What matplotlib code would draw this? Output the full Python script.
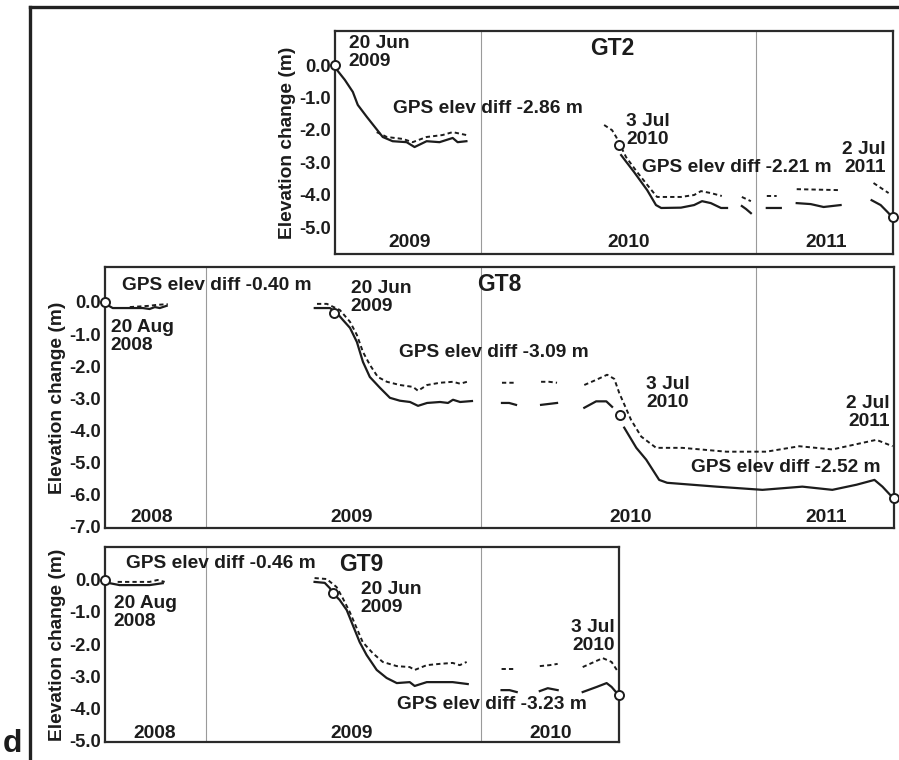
"""Elevation change at GT2, GT8 and GT9 from GPS (solid) and surface (dashed) records."""
import numpy as np
import matplotlib

matplotlib.use("Agg")

import matplotlib.pyplot as plt
from matplotlib.lines import Line2D

nan = np.nan

# ---- GT2 (decimal year, elevation change in m) ----
gt2_solid_yr = [2009.466, 2009.473, 2009.502, 2009.531, 2009.549, 2009.582, 2009.611, 2009.640, 2009.676,
                2009.727, 2009.756, 2009.800, 2009.847, 2009.895, 2009.913, 2009.945, nan,
                2010.509, 2010.556, 2010.604, 2010.636, 2010.655, 2010.727, 2010.775, 2010.804, 2010.836,
                2010.873, 2010.895, nan,
                2010.949, 2010.964, 2010.982, nan,
                2011.040, 2011.091, nan,
                2011.149, 2011.200, 2011.247, 2011.309, nan,
                2011.422, 2011.455, 2011.484, 2011.495]
gt2_solid_dh = [0.0, -0.15, -0.46, -0.83, -1.23, -1.60, -1.91, -2.22, -2.35,
                -2.38, -2.53, -2.35, -2.38, -2.25, -2.38, -2.35, nan,
                -2.78, -3.30, -3.86, -4.32, -4.41, -4.40, -4.32, -4.20, -4.26,
                -4.41, -4.41, nan,
                -4.35, -4.44, -4.57, nan,
                -4.41, -4.41, nan,
                -4.26, -4.29, -4.38, -4.32, nan,
                -4.17, -4.32, -4.57, -4.69]
gt2_dash_yr = [2009.618, 2009.655, 2009.713, 2009.749, 2009.800, 2009.858, 2009.895, 2009.945, nan,
               2010.447, 2010.476, 2010.491, 2010.527, 2010.567, 2010.611, 2010.640, 2010.727, 2010.775,
               2010.800, 2010.836, 2010.876, nan,
               2010.949, 2010.982, nan,
               2011.040, 2011.076, nan,
               2011.149, 2011.309, nan,
               2011.429, 2011.484]
gt2_dash_dh = [-2.07, -2.22, -2.28, -2.38, -2.22, -2.16, -2.07, -2.16, nan,
               -1.85, -2.01, -2.22, -2.84, -3.30, -3.77, -4.07, -4.07, -4.01,
               -3.89, -3.95, -4.04, nan,
               -4.07, -4.20, nan,
               -4.04, -4.04, nan,
               -3.83, -3.86, nan,
               -3.64, -3.95]
gt2_marker_yr = [2009.466, 2010.503, 2011.500]
gt2_marker_dh = [0.0, -2.47, -4.69]

# ---- GT8 ----
gt8_solid_yr = [2008.633, 2008.644, 2008.662, 2008.713, 2008.771, 2008.796, 2008.815, 2008.833, 2008.858, nan,
                2009.396, 2009.451, 2009.476, 2009.498, 2009.524, 2009.549, 2009.571, 2009.596, 2009.633,
                2009.669, 2009.705, 2009.742, 2009.771, 2009.804, 2009.851, 2009.880, 2009.898, 2009.924,
                2009.967, nan,
                2010.076, 2010.102, 2010.127, nan,
                2010.218, 2010.247, 2010.276, nan,
                2010.375, 2010.418, 2010.455, 2010.476, nan,
                2010.520, 2010.564, 2010.600, 2010.647, 2010.676, 2010.855, 2011.022, 2011.167, 2011.276,
                2011.364, 2011.429, 2011.458, 2011.495]
gt8_solid_dh = [0.0, -0.10, -0.19, -0.19, -0.19, -0.22, -0.16, -0.19, -0.12, nan,
                -0.19, -0.19, -0.34, -0.56, -0.81, -1.25, -1.87, -2.34, -2.68,
                -2.99, -3.08, -3.12, -3.24, -3.15, -3.12, -3.15, -3.05, -3.12,
                -3.09, nan,
                -3.15, -3.15, -3.21, nan,
                -3.21, -3.18, -3.15, nan,
                -3.30, -3.10, -3.10, -3.27, nan,
                -3.92, -4.55, -4.92, -5.55, -5.64, -5.76, -5.86, -5.76, -5.86,
                -5.70, -5.55, -5.76, -6.10]
gt8_dash_yr = [2008.724, 2008.796, 2008.822, 2008.862, nan,
               2009.404, 2009.440, 2009.487, 2009.524, 2009.549, 2009.571, 2009.596, 2009.625, 2009.658,
               2009.705, 2009.753, 2009.771, 2009.804, 2009.851, 2009.898, 2009.924, 2009.949, nan,
               2010.076, 2010.127, nan,
               2010.218, 2010.247, 2010.276, nan,
               2010.375, 2010.418, 2010.458, 2010.484, 2010.502, 2010.545, 2010.582, 2010.636, 2010.731,
               2010.891, 2011.036, 2011.156, 2011.276, 2011.436, 2011.495]
gt8_dash_dh = [-0.16, -0.12, -0.09, -0.07, nan,
               -0.06, -0.06, -0.25, -0.62, -1.03, -1.56, -1.96, -2.34, -2.49,
               -2.59, -2.65, -2.77, -2.59, -2.52, -2.49, -2.55, -2.49, nan,
               -2.52, -2.52, nan,
               -2.49, -2.49, -2.52, nan,
               -2.59, -2.43, -2.27, -2.40, -2.84, -3.68, -4.20, -4.55, -4.55,
               -4.67, -4.67, -4.50, -4.60, -4.30, -4.50]
gt8_marker_yr = [2008.634, 2009.466, 2010.503, 2011.500]
gt8_marker_dh = [0.0, -0.34, -3.52, -6.10]

# ---- GT9 ----
gt9_solid_yr = [2008.634, 2008.651, 2008.687, 2008.796, 2008.844, nan,
                2009.396, 2009.433, 2009.451, 2009.462, 2009.487, 2009.513, 2009.535, 2009.560, 2009.585,
                2009.622, 2009.658, 2009.695, 2009.742, 2009.760, 2009.804, 2009.851, 2009.898, 2009.953, nan,
                2010.076, 2010.105, 2010.131, nan,
                2010.215, 2010.244, 2010.280, nan,
                2010.371, 2010.422, 2010.458, 2010.476, 2010.495]
gt9_solid_dh = [0.0, -0.10, -0.16, -0.16, -0.10, nan,
                -0.06, -0.09, -0.25, -0.41, -0.62, -0.94, -1.41, -1.94, -2.34,
                -2.81, -3.06, -3.22, -3.19, -3.31, -3.19, -3.19, -3.19, -3.25, nan,
                -3.44, -3.44, -3.50, nan,
                -3.47, -3.38, -3.44, nan,
                -3.50, -3.34, -3.22, -3.34, -3.53]
gt9_dash_yr = [2008.680, 2008.796, 2008.825, 2008.851, nan,
               2009.396, 2009.440, 2009.476, 2009.498, 2009.524, 2009.549, 2009.571, 2009.607, 2009.644,
               2009.695, 2009.742, 2009.760, 2009.804, 2009.851, 2009.898, 2009.924, 2009.949, nan,
               2010.076, 2010.124, nan,
               2010.215, 2010.251, 2010.280, nan,
               2010.371, 2010.444, 2010.476, 2010.495]
gt9_dash_dh = [-0.06, -0.06, 0.0, -0.06, nan,
               0.06, 0.03, -0.22, -0.56, -1.00, -1.50, -1.94, -2.28, -2.56,
               -2.69, -2.72, -2.81, -2.66, -2.62, -2.59, -2.66, -2.56, nan,
               -2.78, -2.78, nan,
               -2.69, -2.66, -2.62, nan,
               -2.72, -2.44, -2.56, -2.81]
gt9_marker_yr = [2008.634, 2009.462, 2010.503]
gt9_marker_dh = [0.0, -0.41, -3.60]

INK = "#1c1c1c"
FONT = 13.8
W, H = 899, 760


def px_axes(fig, left, top, right, bottom):
    return fig.add_axes([left / W, 1 - bottom / H, (right - left) / W, (bottom - top) / H])


def draw_panel(ax, solid, dashed, markers, xlim, ylim, yticks):
    ax.set_xlim(*xlim)
    ax.set_ylim(*ylim)
    for year in range(int(np.ceil(xlim[0])), int(xlim[1]) + 1):
        if xlim[0] < year < xlim[1]:
            ax.axvline(year, color="#9a9a9a", linewidth=0.8, zorder=1)
    ax.plot(*dashed, color=INK, linewidth=1.4, linestyle=(0, (2.2, 1.6)), zorder=3)
    ax.plot(*solid, color=INK, linewidth=1.6, zorder=3)
    ax.plot(*markers, linestyle="none", marker="o", markersize=6.5, markerfacecolor="white",
            markeredgecolor=INK, markeredgewidth=1.4, clip_on=False, zorder=5)
    ax.set_xticks([])
    ax.set_yticks(yticks)
    ax.set_yticklabels([f"{t:.1f}" for t in yticks], fontsize=13.2, fontweight="bold", color=INK)
    ax.tick_params(axis="y", length=0, pad=3)
    for spine in ax.spines.values():
        spine.set_linewidth(1.6)
        spine.set_color("#2a2a2a")
    ax.set_ylabel("Elevation change (m)", fontsize=FONT, fontweight="bold", color=INK, labelpad=2)


def label(ax, x, y, text, **kw):
    kw.setdefault("fontsize", FONT)
    ax.text(x, y, text, fontweight="bold", color=INK, linespacing=1.08, **kw)


def main():
    plt.rcParams["font.family"] = ["Liberation Sans", "DejaVu Sans"]
    fig = plt.figure(figsize=(W / 100, H / 100), dpi=100)

    # outer frame (top and left edges only visible)
    fig.add_artist(Line2D([30 / W, 30 / W], [0, 1 - 7 / H], color="#222222", linewidth=2.4))
    fig.add_artist(Line2D([30 / W, 1.0], [1 - 7 / H, 1 - 7 / H], color="#222222", linewidth=2.4))

    # GT2
    ax = px_axes(fig, 335, 31, 893, 254)
    draw_panel(ax, (gt2_solid_yr, gt2_solid_dh), (gt2_dash_yr, gt2_dash_dh), (gt2_marker_yr, gt2_marker_dh),
               (2009.466, 2011.5), (-5.83, 1.05), [0.0, -1.0, -2.0, -3.0, -4.0, -5.0])
    label(ax, 2009.516, 0.93, "20 Jun\n2009", va="top")
    label(ax, 2010.476, 0.52, "GT2", ha="center", va="center", fontsize=16.5)
    label(ax, 2009.676, -1.33, "GPS elev diff -2.86 m", va="center")
    label(ax, 2010.527, -1.48, "3 Jul\n2010", va="top")
    label(ax, 2010.585, -3.15, "GPS elev diff -2.21 m", va="center")
    label(ax, 2011.473, -2.35, "2 Jul\n2011", ha="right", va="top")
    for x, t in [(2009.738, "2009"), (2010.538, "2010"), (2011.258, "2011")]:
        label(ax, x, -5.49, t, ha="center", va="center")

    # GT8
    ax = px_axes(fig, 105, 267, 894, 528)
    draw_panel(ax, (gt8_solid_yr, gt8_solid_dh), (gt8_dash_yr, gt8_dash_dh), (gt8_marker_yr, gt8_marker_dh),
               (2008.634, 2011.5), (-7.05, 1.09), [0.0, -1.0, -2.0, -3.0, -4.0, -5.0, -6.0, -7.0])
    label(ax, 2008.695, 0.50, "GPS elev diff -0.40 m", va="center")
    label(ax, 2008.655, -0.53, "20 Aug\n2008", va="top")
    label(ax, 2009.527, 0.69, "20 Jun\n2009", va="top")
    label(ax, 2010.065, 0.53, "GT8", ha="center", va="center", fontsize=16.5)
    label(ax, 2009.702, -1.59, "GPS elev diff -3.09 m", va="center")
    label(ax, 2010.600, -2.30, "3 Jul\n2010", va="top")
    label(ax, 2011.484, -2.90, "2 Jul\n2011", ha="right", va="top")
    label(ax, 2010.764, -5.17, "GPS elev diff -2.52 m", va="center")
    for x, t in [(2008.804, "2008"), (2009.531, "2009"), (2010.545, "2010"), (2011.255, "2011")]:
        label(ax, x, -6.73, t, ha="center", va="center")

    # GT9
    ax = px_axes(fig, 105, 547, 619, 742)
    draw_panel(ax, (gt9_solid_yr, gt9_solid_dh), (gt9_dash_yr, gt9_dash_dh), (gt9_marker_yr, gt9_marker_dh),
               (2008.634, 2010.503), (-5.06, 1.03), [0.0, -1.0, -2.0, -3.0, -4.0, -5.0])
    label(ax, 2008.709, 0.53, "GPS elev diff -0.46 m", va="center")
    label(ax, 2009.487, 0.47, "GT9", va="center", fontsize=16.5)
    label(ax, 2008.665, -0.47, "20 Aug\n2008", va="top")
    label(ax, 2009.564, -0.03, "20 Jun\n2009", va="top")
    label(ax, 2010.487, -1.22, "3 Jul\n2010", ha="right", va="top")
    label(ax, 2009.695, -3.90, "GPS elev diff -3.23 m", va="center")
    for x, t in [(2008.815, "2008"), (2009.531, "2009"), (2010.255, "2010")]:
        label(ax, x, -4.78, t, ha="center", va="center")

    fig.text(3 / W, 1 - 752 / H, "d", fontsize=23, fontweight="bold", color=INK, ha="left", va="baseline")

    fig.savefig("out.png", dpi=100)
    plt.close(fig)


if __name__ == "__main__":
    main()
